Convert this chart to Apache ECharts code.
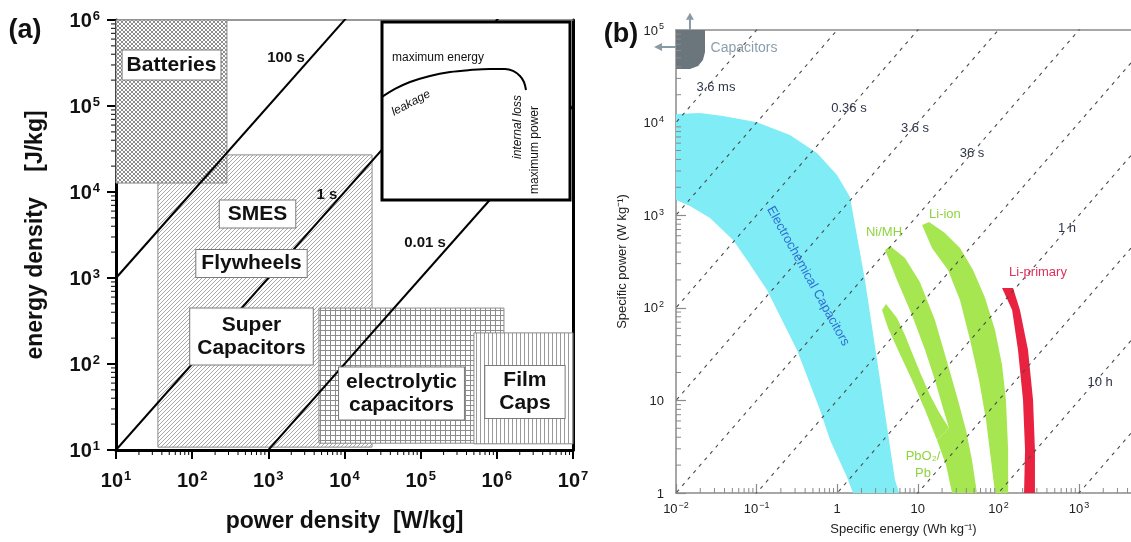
<!DOCTYPE html>
<html>
<head>
<meta charset="utf-8">
<script src="https://cdn.jsdelivr.net/npm/echarts@6.0.0/dist/echarts.min.js"></script>
<style>
html,body{margin:0;padding:0;background:#ffffff;}
#chart{width:1131px;height:542px;}
</style>
</head>
<body>
<div id="chart"></div>
<script>
// ================= Panel (a): energy density vs power density =================
const aPowerMinMax = [10, 1e7];          // W/kg
const aEnergyMinMax = [10, 1e6];         // J/kg
const aDevices = ['SMES / Flywheels / Super Capacitors', 'Batteries', 'electrolytic capacitors', 'Film Caps'];
const aDevicePower = [[35.5, 23000], [10, 286], [4620, 1.24e6], [5.0e5, 1e7]];     // [min,max] W/kg
const aDeviceEnergy = [[10.8, 27000], [12700, 1e6], [12, 447], [11.8, 230]];       // [min,max] J/kg
const aTimeSeconds = [100, 1, 0.01];
const aTimeLabels = ['100 s', '1 s', '0.01 s'];
const aTimeLabelAt = [[1706, 3.61e5], [5890, 9230], [114000, 2550]];
const aBoxLabels = ['Batteries', 'SMES', 'Flywheels', 'Super\nCapacitors', 'electrolytic\ncapacitors', 'Film\nCaps'];
const aBoxLabelAt = [[53.6, 3.0e5], [721, 5550], [601, 1476], [601, 209], [56000, 45.4], [2.34e6, 47.2]];
// inset (schematic, normalised units)
const insetCurve = [[0,0.579],[0.069,0.624],[0.149,0.663],[0.255,0.697],[0.362,0.719],[0.468,0.730],[0.574,0.736],[0.654,0.736],[0.697,0.725],[0.734,0.697],[0.755,0.663],[0.766,0.618]];
const insetTexts = ['maximum energy', 'leakage', 'internal loss', 'maximum power'];
const insetTextAt = [[0.298, 0.798], [0.154, 0.545], [0.723, 0.410], [0.814, 0.281]];

// ================= Panel (b): Ragone plot =================
const bEnergyMinMax = [0.01, 4416];      // Wh/kg
const bPowerMinMax = [1, 1e5];           // W/kg
const bTimeSeconds = [0.0036, 0.036, 0.36, 3.6, 36, 360, 3600, 36000, 360000, 3600000];
const bTimeLabels = ['3.6 ms', '0.36 s', '3.6 s', '36 s', '1 h', '10 h'];
const bTimeLabelAt = [[0.0313, 24200], [1.40, 14400], [9.23, 8750], [47.0, 4700], [710, 728], [1824, 15.8]];
const bCapacitors = [[0.01,1e5],[0.0229,1e5],[0.0229,57800],[0.0216,47400],[0.0188,40800],[0.0149,37900],[0.01,37900]];
const bElectrochemCaps = [[0.01,12400],[0.0199,12700],[0.0383,11800],[0.101,10100],[0.259,7350],[0.561,4700],[0.994,2720],[1.44,1570],[2.21,200],[3.40,16.6],[5.21,1.38],[5.85,1],[1.57,1],[1.32,1.49],[0.815,3.73],[0.612,7.87],[0.317,35],[0.1345,156],[0.076,328],[0.051,540],[0.0264,933],[0.0149,1257],[0.01,1460]];
const bNiMH = [[3.92,421],[4.52,465],[6.93,345],[10.6,190],[16.3,73.8],[23.7,24.1],[31.5,10.1],[39.6,4.79],[47.0,2.27],[54.2,1],[26.6,1],[22.4,2.0],[17.3,3.73],[24.4,5.03],[20.0,8.91],[16.3,16.6],[12.3,35],[8.47,83.6],[5.52,200]];
const bPbO2 = [[17.3,3.73],[12.3,7.87],[8.47,16.6],[5.68,35],[4.27,60.5],[3.6,94.7],[4.03,110],[5.52,77.6],[6.93,50.8],[8.71,30.9],[11.0,18.8],[14.2,11.4],[18.3,7.5],[24.4,5.03]];
const bLiIon = [[11.3,784],[13.8,845],[21.7,643],[33.4,443],[48.4,256],[68.2,128],[90.7,57.5],[111,24.1],[124,10.1],[132,2.91],[132,1],[90.7,1],[80.9,2.27],[70.2,6.14],[57.5,16.6],[44.5,44.9],[33.4,121],[23.7,256],[15.0,443]];
const bLiPrimary = [[111,164],[152,164],[185,94.7],[233,35],[269,10.1],[284,2.91],[284,1],[208,1],[214,2.91],[202,10.1],[175,35],[148,94.7]];
const bShapeLabels = ['Capacitors', 'Electrochemical Capacitors', 'Ni/MH', 'Li-ion', 'Li-primary', 'PbO\u2082/\nPb'];
const bShapeLabelAt = [[0.0698, 64000], [0.434, 220], [3.81, 659], [21.7, 1030], [310, 244], [11.6, 2.0]];
const minorMultipliers = [2, 3, 4, 5, 6, 7, 8, 9];

// ================= styles =================
const FA = "'Liberation Sans', Arial, Helvetica, sans-serif";
const FB = "'Liberation Sans', Arial, Helvetica, sans-serif";
const C_CYAN = '#80ecf6', C_GREEN = '#a6e650', C_RED = '#e8223f', C_CAPS = '#6b767c';
const C_TIME = '#2e3548', C_GREY = '#8a8a8a';

function makePattern(kind) {
  const s = kind === 'grid' ? 5 : 4;
  const c = document.createElement('canvas');
  c.width = s; c.height = s;
  const g = c.getContext('2d');
  g.fillStyle = '#ffffff'; g.fillRect(0, 0, s, s);
  g.lineWidth = 1;
  if (kind === 'cross') {
    g.strokeStyle = '#8e8e8e';
    for (const o of [-s, 0, s]) {
      g.beginPath(); g.moveTo(o, s); g.lineTo(o + s, 0); g.stroke();
      g.beginPath(); g.moveTo(o, 0); g.lineTo(o + s, s); g.stroke();
    }
  } else if (kind === 'diag') {
    g.strokeStyle = '#a8a8a8';
    for (const o of [-s, 0, s]) { g.beginPath(); g.moveTo(o, s); g.lineTo(o + s, 0); g.stroke(); }
  } else if (kind === 'grid') {
    g.strokeStyle = '#8c8c8c';
    g.beginPath(); g.moveTo(0, 0.5); g.lineTo(s, 0.5); g.stroke();
    g.beginPath(); g.moveTo(0.5, 0); g.lineTo(0.5, s); g.stroke();
  } else {
    g.strokeStyle = '#9a9a9a';
    g.beginPath(); g.moveTo(0.5, 0); g.lineTo(0.5, s); g.stroke();
  }
  return { image: c, repeat: 'repeat' };
}
const aPatterns = [makePattern('diag'), makePattern('cross'), makePattern('grid'), makePattern('vert')];

const supA = v => '{b|10}{s|' + Math.round(Math.log10(v)) + '}';
const supB = v => {
  const l = Math.log10(v), e = Math.round(l);
  if (Math.abs(l - e) > 1e-6) return '';
  if (e === 0) return '{b|1}';
  if (e === 1) return '{b|10}';
  return '{b|10}{s|' + (e < 0 ? '\u2212' + (-e) : e) + '}';
};
const richA = {
  b: { fontSize: 20, fontWeight: 'bold', fontFamily: FA, color: '#111', lineHeight: 22, verticalAlign: 'bottom' },
  s: { fontSize: 13, fontWeight: 'bold', fontFamily: FA, color: '#111', lineHeight: 14, verticalAlign: 'top', padding: [1, 0, 0, 1] }
};
const richB = {
  b: { fontSize: 13, fontFamily: FB, color: '#222', lineHeight: 15, verticalAlign: 'bottom' },
  s: { fontSize: 9, fontFamily: FB, color: '#222', lineHeight: 10, verticalAlign: 'top', padding: [0, 0, 0, 1] }
};

const chart = echarts.init(document.getElementById('chart'), null, { renderer: 'canvas' });

const series = [];
// panel (a) boxes
series.push({
  type: 'custom', name: 'devices', xAxisIndex: 0, yAxisIndex: 0, silent: true, z: 1,
  data: aDevices.map((n, i) => [aDevicePower[i][0], aDeviceEnergy[i][0], aDevicePower[i][1], aDeviceEnergy[i][1]]),
  renderItem: (params, api) => {
    const p0 = api.coord([api.value(0), api.value(1)]);
    const p1 = api.coord([api.value(2), api.value(3)]);
    return {
      type: 'rect', z2: params.dataIndex,
      shape: { x: p0[0], y: p1[1], width: p1[0] - p0[0], height: p0[1] - p1[1] },
      style: { fill: aPatterns[params.dataIndex], stroke: '#8a8a8a', lineWidth: 1 }
    };
  }
});
// panel (a) constant-time lines E = P * t
aTimeSeconds.forEach((t, i) => series.push({
  type: 'line', name: aTimeLabels[i], xAxisIndex: 0, yAxisIndex: 0, silent: true, z: 3,
  symbol: 'none', data: [[1, t], [1e8, 1e8 * t]],
  lineStyle: { color: '#000', width: 2 }
}));
// inset curve
series.push({
  type: 'line', name: 'inset', xAxisIndex: 4, yAxisIndex: 3, silent: true, z: 12,
  symbol: 'none', smooth: 0.35, data: insetCurve, lineStyle: { color: '#000', width: 2 }
});
// panel (b) regions
function poly(name, pts, color, z) {
  return {
    type: 'custom', name, xAxisIndex: 2, yAxisIndex: 2, silent: true, z, data: pts,
    renderItem: (params, api) => {
      if (params.dataIndex !== 0) return null;
      return { type: 'polygon', shape: { points: pts.map(p => api.coord(p)) }, style: { fill: color } };
    }
  };
}
series.push(poly('Capacitors', bCapacitors, C_CAPS, 2));
series.push(poly('Electrochemical Capacitors', bElectrochemCaps, C_CYAN, 2));
series.push(poly('Ni/MH', bNiMH, C_GREEN, 2));
series.push(poly('PbO2/Pb', bPbO2, C_GREEN, 2));
series.push(poly('Li-ion', bLiIon, C_GREEN, 2));
series.push(poly('Li-primary', bLiPrimary, C_RED, 2));
// panel (b) constant-time lines P = E * 3600 / t
bTimeSeconds.forEach(t => series.push({
  type: 'line', xAxisIndex: 2, yAxisIndex: 2, silent: true, z: 4, symbol: 'none',
  data: [[1e-4, 1e-4 * 3600 / t], [1e5, 1e5 * 3600 / t]],
  lineStyle: { color: '#4a4a4a', width: 1.1, type: [3.5, 5] }
}));

const option = {
  animation: false,
  backgroundColor: '#ffffff',
  grid: [
    { left: 116, top: 20, width: 457, height: 430 },
    { left: 676, top: 30, width: 455, height: 463 },
    { left: 382, top: 22, width: 188, height: 178, show: true, backgroundColor: '#ffffff', borderColor: '#000', borderWidth: 3, z: 10 }
  ],
  xAxis: [
    { type: 'log', logBase: 10, gridIndex: 0, min: aPowerMinMax[0], max: aPowerMinMax[1],
      axisLine: { lineStyle: { color: '#000', width: 3 } },
      axisTick: { length: 9, lineStyle: { color: '#000', width: 2 } },
      axisLabel: { formatter: supA, rich: richA, margin: 19 },
      splitLine: { show: false },
      name: 'power density  [W/kg]', nameLocation: 'middle', nameGap: 60,
      nameTextStyle: { fontFamily: FA, fontWeight: 'bold', fontSize: 23, color: '#111' } },
    { type: 'log', logBase: 10, gridIndex: 0, position: 'top', min: aPowerMinMax[0], max: aPowerMinMax[1],
      axisLine: { lineStyle: { color: '#777', width: 1.5 } }, axisTick: { show: false }, axisLabel: { show: false }, splitLine: { show: false } },
    { type: 'log', logBase: 10, gridIndex: 1, min: bEnergyMinMax[0], max: bEnergyMinMax[1],
      axisLine: { lineStyle: { color: C_GREY, width: 1.5 } },
      axisTick: { inside: true, length: 9, lineStyle: { color: C_GREY, width: 1.2 } },
      axisLabel: { formatter: supB, rich: richB, margin: 8, showMaxLabel: false },
      splitLine: { show: false },
      name: 'Specific energy (Wh kg\u207B\u00B9)', nameLocation: 'middle', nameGap: 30,
      nameTextStyle: { fontFamily: FB, fontSize: 13, color: '#222' } },
    { type: 'log', logBase: 10, gridIndex: 1, position: 'top', min: bEnergyMinMax[0], max: bEnergyMinMax[1],
      axisLine: { lineStyle: { color: C_GREY, width: 1.5 } }, axisTick: { show: false }, axisLabel: { show: false }, splitLine: { show: false } },
    { type: 'value', gridIndex: 2, min: 0, max: 1, show: false }
  ],
  yAxis: [
    { type: 'log', logBase: 10, gridIndex: 0, min: aEnergyMinMax[0], max: aEnergyMinMax[1],
      axisLine: { lineStyle: { color: '#000', width: 3 } },
      axisTick: { length: 9, lineStyle: { color: '#000', width: 2 } },
      axisLabel: { formatter: supA, rich: richA, margin: 16 },
      splitLine: { show: false },
      name: 'energy density    [J/kg]', nameLocation: 'middle', nameGap: 69,
      nameTextStyle: { fontFamily: FA, fontWeight: 'bold', fontSize: 23, color: '#111' } },
    { type: 'log', logBase: 10, gridIndex: 0, position: 'right', min: aEnergyMinMax[0], max: aEnergyMinMax[1],
      axisLine: { lineStyle: { color: '#000', width: 3 } }, axisTick: { show: false }, axisLabel: { show: false }, splitLine: { show: false } },
    { type: 'log', logBase: 10, gridIndex: 1, min: bPowerMinMax[0], max: bPowerMinMax[1],
      axisLine: { lineStyle: { color: C_GREY, width: 1.5 } },
      axisTick: { inside: true, length: 10, lineStyle: { color: C_GREY, width: 1.2 } },
      axisLabel: { formatter: supB, rich: richB, margin: 12 },
      splitLine: { show: false },
      name: 'Specific power (W kg\u207B\u00B9)', nameLocation: 'middle', nameGap: 47,
      nameTextStyle: { fontFamily: FB, fontSize: 13, color: '#222' } },
    { type: 'value', gridIndex: 2, min: 0, max: 1, show: false }
  ],
  series
};
chart.setOption(option);

// ================= annotations positioned through the axes =================
const X = (i, v) => chart.convertToPixel({ xAxisIndex: i }, v);
const Y = (i, v) => chart.convertToPixel({ yAxisIndex: i }, v);
const PX = (xi, yi, v) => chart.convertToPixel({ xAxisIndex: xi, yAxisIndex: yi }, v);
const graphics = [];
function minorValues(lo, hi, max) {
  const out = [];
  for (let e = lo; e < hi; e++) for (const m of minorMultipliers) { const v = m * Math.pow(10, e); if (v < max) out.push(v); }
  return out;
}
function tick(x1, y1, x2, y2, color, w) {
  graphics.push({ type: 'line', silent: true, z: 60, shape: { x1, y1, x2, y2 }, style: { stroke: color, lineWidth: w } });
}
// panel (a) minor ticks (outside)
const ay0 = Y(0, aEnergyMinMax[0]), ax0 = X(0, aPowerMinMax[0]);
minorValues(1, 7, 1e7).forEach(v => { const x = X(0, v); tick(x, ay0 + 1, x, ay0 + 5, '#000', 1); });
minorValues(1, 6, 1e6).forEach(v => { const y = Y(0, v); tick(ax0 - 1, y, ax0 - 5, y, '#000', 1); });
// panel (b) minor ticks (inside)
const by0 = Y(2, bPowerMinMax[0]), bx0 = X(2, bEnergyMinMax[0]);
minorValues(-2, 4, bEnergyMinMax[1]).forEach(v => { const x = X(2, v); tick(x, by0, x, by0 - 5, C_GREY, 1); });
minorValues(0, 5, 1e5).forEach(v => { const y = Y(2, v); tick(bx0, y, bx0 + 5, y, C_GREY, 1); });

function text(pos, str, style, extra) {
  graphics.push(Object.assign({
    type: 'text', x: pos[0], y: pos[1], silent: true, z: 100,
    style: Object.assign({ text: str, align: 'center', verticalAlign: 'middle', fill: '#111' }, style)
  }, extra || {}));
}
// panel tags
text([25, 31], '(a)', { fontFamily: FA, fontWeight: 'bold', fontSize: 27 });
text([621, 35], '(b)', { fontFamily: FA, fontWeight: 'bold', fontSize: 27 });
// panel (a) box labels
const aPads = [[3, 4], [2, 8], [2, 5], [5, 7], [3, 7], [3, 14]];
aBoxLabels.forEach((t, i) => text(PX(0, 0, aBoxLabelAt[i]), t, {
  fontFamily: FA, fontWeight: 'bold', fontSize: 21, lineHeight: 23,
  backgroundColor: '#ffffff', borderColor: '#7a7a7a', borderWidth: 1, padding: aPads[i]
}));
aTimeLabels.forEach((t, i) => text(PX(0, 0, aTimeLabelAt[i]), t, { fontFamily: FA, fontWeight: 'bold', fontSize: 15 }));
// inset texts
const insetRot = [0, 28, 90, 90], insetItalic = [false, true, true, false];
insetTexts.forEach((t, i) => text(PX(4, 3, insetTextAt[i]), t, {
  fontFamily: FA, fontSize: 12, fontStyle: insetItalic[i] ? 'italic' : 'normal'
}, { rotation: insetRot[i] * Math.PI / 180 }));
// panel (b) time labels
bTimeLabels.forEach((t, i) => text(PX(2, 2, bTimeLabelAt[i]), t, { fontFamily: FB, fontSize: 13, fill: C_TIME }));
// panel (b) region labels
const bLabelColors = ['#8c9eaa', '#2e6fd5', '#8fd33f', '#8fd33f', '#e2305c', '#8fd33f'];
const bLabelRot = [0, -61, 0, 0, 0, 0];
bShapeLabels.forEach((t, i) => text(PX(2, 2, bShapeLabelAt[i]), t, {
  fontFamily: FB, fontSize: i === 0 ? 14 : 13, fill: bLabelColors[i], lineHeight: 17
}, { rotation: bLabelRot[i] * Math.PI / 180 }));
// capacitor arrows (pointing beyond the axes)
const arrowColor = '#8a9aa5';
const upA = PX(2, 2, [0.0149, 1e5]), upB = PX(2, 2, [0.0149, 1.5e5]);
graphics.push({ type: 'line', silent: true, z: 60, shape: { x1: upA[0], y1: upA[1], x2: upB[0], y2: upB[1] + 4 }, style: { stroke: arrowColor, lineWidth: 2 } });
graphics.push({ type: 'polygon', silent: true, z: 60, shape: { points: [[upB[0] - 4, upB[1] + 6], [upB[0] + 4, upB[1] + 6], [upB[0], upB[1] - 1]] }, style: { fill: arrowColor } });
const lfA = PX(2, 2, [0.01, 65500]), lfB = PX(2, 2, [0.0055, 65500]);
graphics.push({ type: 'line', silent: true, z: 60, shape: { x1: lfA[0], y1: lfA[1], x2: lfB[0] + 4, y2: lfB[1] }, style: { stroke: arrowColor, lineWidth: 2 } });
graphics.push({ type: 'polygon', silent: true, z: 60, shape: { points: [[lfB[0] + 7, lfB[1] - 4], [lfB[0] + 7, lfB[1] + 4], [lfB[0] - 1, lfB[1]]] }, style: { fill: arrowColor } });

chart.setOption({ graphic: { elements: graphics } });
</script>
</body>
</html>
